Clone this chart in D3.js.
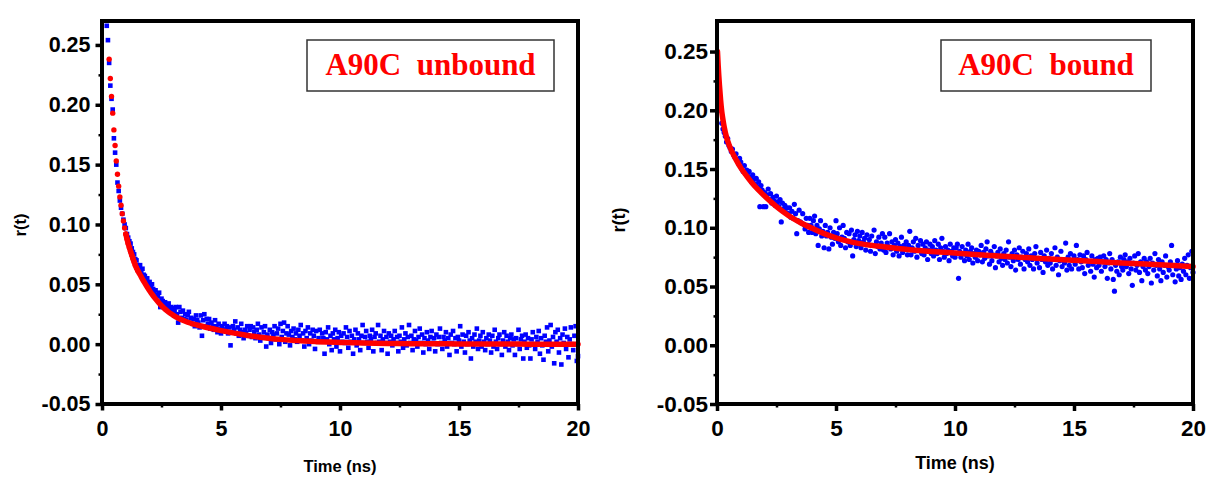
<!DOCTYPE html>
<html><head><meta charset="utf-8">
<script src="https://cdn.jsdelivr.net/npm/d3@7"></script>
<style>body{margin:0;background:#fff}svg{display:block}</style>
</head><body><svg id="c" width="1208" height="478"></svg>
<script>
// ---------- data ----------
const xTicks = [0, 5, 10, 15, 20];
const xMinor = [2.5, 7.5, 12.5, 17.5];
const yTicks = [-0.05, 0, 0.05, 0.10, 0.15, 0.20, 0.25];
const yMinor = [-0.025, 0.025, 0.075, 0.125, 0.175, 0.225];
const leftTitle = "A90C  unbound";
const rightTitle = "A90C  bound";
const xLabel = "Time (ns)";
const yLabel = "r(t)";
const channelWidth = 0.05;      // ns per TCSPC channel
const leftDataStart = 0.20;     // first channel time, left panel
const rightDataStart = 0.05;    // first channel time, right panel

const leftData = [
0.266,0.254,0.235,0.216,0.205,0.196,0.172,0.160,0.150,0.135,0.128,0.120,0.114,0.109,0.104,0.100,0.097,0.092,0.089,0.086,
0.084,0.080,0.077,0.075,0.071,0.070,0.066,0.064,0.066,0.061,0.063,0.058,0.057,0.053,0.055,0.051,0.052,0.048,0.050,0.046,
0.044,0.045,0.041,0.040,0.043,0.031,0.038,0.036,0.033,0.035,0.030,0.032,0.034,0.029,0.031,0.027,0.030,0.028,0.031,0.025,
0.018,0.031,0.027,0.022,0.028,0.021,0.025,0.020,0.024,0.027,0.018,0.022,0.017,0.021,0.015,0.024,0.020,0.018,0.014,0.024,
0.007,0.020,0.025,0.015,0.021,0.017,0.021,0.013,0.018,0.015,0.012,0.020,0.015,0.010,0.017,0.013,0.009,0.015,0.012,0.017,
0.012,0.015,0.009,0.014,-0.001,0.010,0.015,0.012,0.019,0.009,0.014,0.007,0.012,0.017,0.010,0.005,0.012,0.009,0.015,0.007,
0.012,0.015,0.006,0.014,0.010,0.005,0.012,0.017,0.008,0.003,0.014,0.006,0.010,0.015,-0.002,0.008,0.005,0.012,0.001,0.010,
0.008,0.015,0.004,0.009,0.013,0.000,0.017,0.006,0.011,0.018,0.002,0.009,0.015,0.008,-0.001,0.011,0.006,0.013,0.004,0.009,
0.002,0.012,0.007,0.016,0.003,0.009,-0.002,0.011,0.005,0.014,0.000,0.009,0.003,0.012,0.007,-0.004,0.011,0.002,0.005,0.012,
0.002,0.009,0.005,-0.008,0.010,0.004,0.014,0.000,0.007,-0.005,0.009,0.004,0.012,-0.002,0.005,0.010,-0.006,0.007,0.002,0.009,
0.001,0.014,0.006,-0.003,0.011,0.002,0.007,-0.008,0.004,0.012,-0.001,0.009,0.004,-0.005,0.007,0.016,0.001,0.006,0.011,0.002,
-0.003,0.007,0.004,0.012,-0.006,0.006,0.009,0.001,0.016,0.002,0.007,-0.005,0.004,0.011,0.001,0.006,-0.008,0.009,0.002,0.007,
-0.001,0.004,0.011,0.001,0.006,-0.006,0.007,0.002,0.014,-0.003,0.004,0.009,-0.001,0.006,0.016,0.001,0.007,-0.005,0.004,0.011,
0.003,-0.002,0.006,0.013,0.001,0.008,-0.007,0.005,0.000,0.010,0.003,-0.004,0.006,0.011,0.001,0.005,-0.006,0.008,0.000,0.006,
0.013,0.001,-0.004,0.006,0.003,0.010,-0.002,0.005,-0.009,0.008,0.001,0.011,0.000,0.005,-0.006,0.006,0.003,0.015,-0.002,0.008,
0.002,-0.007,0.007,0.000,0.010,0.003,-0.012,0.005,-0.002,0.008,0.002,0.013,-0.004,0.003,0.007,-0.002,0.010,0.002,-0.005,0.005,
0.000,0.008,0.003,-0.007,0.007,-0.002,0.012,0.002,-0.004,0.005,0.008,0.000,-0.009,0.003,0.010,-0.002,0.007,0.002,-0.005,0.005,
0.008,-0.001,0.004,-0.009,0.005,0.000,0.012,-0.004,0.004,0.007,-0.012,0.002,0.008,-0.003,0.005,-0.001,-0.012,0.004,0.010,0.000,
-0.004,0.006,0.002,0.011,-0.008,0.005,-0.001,-0.013,0.007,0.002,0.014,-0.006,0.003,0.016,-0.002,0.006,-0.016,0.010,0.002,0.012,
-0.007,0.005,-0.017,0.008,0.001,0.013,-0.004,0.006,-0.011,0.004,0.014,0.000,-0.005,0.007,0.015,-0.014,-0.010
];
const leftFitT = [0.30,0.35,0.40,0.45,0.50,0.55,0.60,0.65,0.70,0.75,0.80,0.85,0.90,0.95,1.00,1.05,1.10,1.15,1.20,1.25,1.30,1.35,1.40,1.45,1.50,
1.6,1.7,1.8,1.9,2.0,2.1,2.2,2.3,2.4,2.5,2.6,2.7,2.8,2.9,3.0,3.2,3.4,3.6,3.8,4.0,
4.5,5.0,5.5,6.0,6.5,7.0,7.5,8.0,8.5,9.0,9.5,10,11,12,13,14,15,16,17,18,19,20];
const leftFitV = [0.238,0.222,0.207,0.193,0.179,0.166,0.153,0.142,0.132,0.123,0.116,0.109,0.103,0.097,0.092,0.088,0.084,0.0807,0.0775,0.0745,0.0715,0.0687,0.066,0.0637,0.0615,
0.0580,0.0544,0.0510,0.0477,0.0446,0.0418,0.0391,0.0366,0.0343,0.0322,0.0302,0.0284,0.0268,0.0254,0.0241,0.0218,0.0199,0.0183,0.0170,0.0160,
0.0135,0.0113,0.0094,0.0077,0.0062,0.0050,0.0040,0.0032,0.0026,0.0021,0.0017,0.0014,0.0009,0.0006,0.0004,0.0003,0.0002,0.0001,0.0001,0.0000,0.0000,0.0000];

const rightData = [
0.219,0.206,0.200,0.189,0.184,0.181,0.178,0.173,0.176,0.170,0.168,0.165,0.167,0.162,0.160,0.163,0.158,0.155,0.159,0.156,
0.150,0.148,0.153,0.146,0.149,0.144,0.148,0.143,0.139,0.145,0.141,0.137,0.142,0.135,0.139,0.118,0.136,0.132,0.118,0.130,
0.118,0.128,0.133,0.124,0.129,0.121,0.126,0.123,0.119,0.127,0.122,0.118,0.124,0.105,0.121,0.116,0.119,0.113,0.117,0.112,
0.117,0.109,0.114,0.108,0.120,0.112,0.095,0.106,0.115,0.105,0.104,0.112,0.103,0.099,0.108,0.102,0.096,0.108,0.102,0.096,
0.106,0.110,0.095,0.102,0.085,0.099,0.106,0.093,0.097,0.083,0.102,0.093,0.096,0.082,0.100,0.092,0.086,0.096,0.091,0.106,
0.095,0.088,0.100,0.085,0.092,0.102,0.091,0.083,0.096,0.088,0.095,0.085,0.098,0.076,0.090,0.094,0.084,0.097,0.089,0.093,
0.083,0.096,0.088,0.091,0.081,0.094,0.086,0.090,0.080,0.093,0.085,0.098,0.078,0.088,0.084,0.092,0.082,0.087,0.095,0.081,
0.092,0.079,0.087,0.084,0.095,0.082,0.088,0.077,0.085,0.090,0.080,0.087,0.076,0.084,0.092,0.079,0.085,0.082,0.088,0.077,
0.085,0.097,0.077,0.083,0.088,0.080,0.091,0.075,0.085,0.081,0.089,0.078,0.086,0.077,0.083,0.088,0.073,0.081,0.086,0.078,
0.084,0.076,0.089,0.081,0.078,0.086,0.073,0.083,0.091,0.080,0.075,0.084,0.078,0.081,0.072,0.086,0.080,0.076,0.083,0.075,
0.083,0.086,0.057,0.080,0.075,0.084,0.078,0.072,0.081,0.076,0.086,0.073,0.080,0.083,0.070,0.078,0.075,0.081,0.072,0.080,
0.077,0.085,0.071,0.079,0.074,0.082,0.088,0.076,0.069,0.080,0.072,0.077,0.084,0.066,0.076,0.079,0.071,0.082,0.074,0.068,
0.078,0.073,0.081,0.070,0.088,0.075,0.067,0.078,0.072,0.081,0.064,0.077,0.073,0.083,0.069,0.075,0.080,0.065,0.073,0.078,
0.071,0.082,0.068,0.076,0.073,0.065,0.078,0.084,0.070,0.074,0.066,0.079,0.073,0.062,0.076,0.071,0.081,0.068,0.074,0.070,
0.078,0.065,0.073,0.083,0.068,0.075,0.060,0.072,0.080,0.067,0.073,0.070,0.087,0.064,0.075,0.068,0.078,0.065,0.072,0.076,
0.069,0.085,0.073,0.065,0.077,0.071,0.066,0.076,0.061,0.073,0.079,0.068,0.071,0.063,0.076,0.069,0.058,0.073,0.066,0.074,
0.068,0.075,0.063,0.071,0.076,0.067,0.073,0.057,0.070,0.078,0.065,0.073,0.056,0.046,0.068,0.063,0.071,0.060,0.075,0.067,
0.064,0.073,0.077,0.067,0.071,0.061,0.074,0.065,0.051,0.070,0.076,0.064,0.068,0.078,0.062,0.071,0.055,0.067,0.074,0.064,
0.071,0.061,0.067,0.074,0.053,0.070,0.064,0.078,0.068,0.059,0.073,0.065,0.055,0.071,0.062,0.068,0.076,0.058,0.067,0.064,
0.071,0.085,0.060,0.068,0.054,0.065,0.072,0.059,0.066,0.056,0.069,0.063,0.074,0.060,0.068,0.077,0.057,0.066,0.080,0.062
];
const rightFitT = [0.02,0.05,0.10,0.15,0.20,0.25,0.30,0.40,0.50,0.60,0.80,1.00,1.25,1.50,1.75,2.0,2.5,3.0,3.5,4.0,
4.5,5.0,5.5,6.0,6.5,7.0,7.5,8,9,10,11,12,13,14,15,16,17,18,19,20];
const rightFitV = [0.250,0.238,0.222,0.209,0.199,0.192,0.186,0.177,0.171,0.166,0.158,0.151,0.144,0.1375,0.132,0.127,0.118,0.1105,0.1045,0.0995,
0.095,0.0915,0.0887,0.0865,0.0850,0.0838,0.0826,0.0816,0.0799,0.0785,0.0771,0.0758,0.0746,0.0734,0.0723,0.0712,0.0701,0.0691,0.0681,0.0670];

// ---------- drawing ----------
const SANS = "'Liberation Sans', Arial, sans-serif";
const SERIF = "'Liberation Serif', 'Times New Roman', serif";
const BLUE = "#0000ff", RED = "#ff0000";
const svg = d3.select("#c");
const TOP = 21, BOT = 404;

function panel(o) {
  const x = d3.scaleLinear().domain([0, 20]).range(o.xr);
  const y = d3.scaleLinear().domain(o.yd).range([BOT, TOP]);
  const g = svg.append("g");

  o.draw(g, x, y);

  const clean = s => s.select(".domain").remove();
  const styleText = (s, fs) => s.selectAll("text")
      .attr("font-size", fs).attr("font-family", SANS).attr("font-weight", "bold").attr("fill", "#000");

  g.append("g").attr("transform", `translate(${o.xr[0]},0)`)
    .call(d3.axisLeft(y).tickValues(yMinor).tickSize(3.5).tickFormat(""))
    .call(clean).call(s => s.selectAll("line").attr("stroke", "#000").attr("stroke-width", 2.5));
  g.append("g").attr("transform", `translate(${o.xr[0]},0)`)
    .call(d3.axisLeft(y).tickValues(yTicks).tickSize(o.tick).tickPadding(o.yPad).tickFormat(d => d.toFixed(2)))
    .call(clean).call(s => styleText(s, o.tfs))
    .call(s => s.selectAll("line").attr("stroke", "#000").attr("stroke-width", 3.5));
  g.append("g").attr("transform", `translate(0,${BOT})`)
    .call(d3.axisBottom(x).tickValues(xMinor).tickSize(3.5).tickFormat(""))
    .call(clean).call(s => s.selectAll("line").attr("stroke", "#000").attr("stroke-width", 2.5));
  g.append("g").attr("transform", `translate(0,${BOT})`)
    .call(d3.axisBottom(x).tickValues(xTicks).tickSize(o.tick).tickPadding(o.xPad).tickFormat(d => String(d)))
    .call(clean).call(s => styleText(s, o.tfs))
    .call(s => s.selectAll("line").attr("stroke", "#000").attr("stroke-width", 3.5));

  g.append("rect").attr("x", o.xr[0]).attr("y", TOP)
    .attr("width", o.xr[1] - o.xr[0]).attr("height", BOT - TOP)
    .attr("fill", "none").attr("stroke", "#000").attr("stroke-width", 4);

  g.append("rect").attr("x", o.box[0]).attr("y", o.box[1]).attr("width", o.box[2]).attr("height", o.box[3])
    .attr("fill", "#fff").attr("stroke", "#333").attr("stroke-width", 1.5);
  g.append("text").attr("x", o.box[0] + o.box[2] / 2).attr("y", o.box[1] + 35)
    .attr("text-anchor", "middle").attr("font-family", SERIF).attr("font-weight", "bold")
    .attr("font-size", 31).attr("fill", RED).style("white-space", "pre").text(o.title);

  g.append("text").attr("x", o.xt[0]).attr("y", o.xt[1]).attr("text-anchor", "middle")
    .attr("font-family", SANS).attr("font-weight", "bold").attr("font-size", o.afs).text(xLabel);
  g.append("text").attr("transform", `translate(${o.yt[0]},${o.yt[1]}) rotate(-90)`).attr("text-anchor", "middle")
    .attr("font-family", SANS).attr("font-weight", "bold").attr("font-size", o.afs).text(yLabel);
}

panel({
  xr: [102, 578], yd: [-0.05, 0.27], tick: 6.5, yPad: 5, xPad: 10, tfs: 21.5, afs: 16.5,
  box: [307, 40, 247, 51], title: leftTitle, xt: [340, 472], yt: [26, 225],
  draw: (g, x, y) => {
    const pts = leftData.map((v, i) => ({ t: leftDataStart + i * channelWidth, v }));
    g.append("g").selectAll("rect").data(pts).join("rect")
      .attr("x", d => x(d.t) - 2.3).attr("y", d => y(d.v) - 2.3)
      .attr("width", 4.6).attr("height", 4.6).attr("fill", BLUE);
    const fit = leftFitT.map((t, i) => ({ t, v: leftFitV[i] }));
    g.append("path").datum(fit.filter(d => d.t >= 1.0))
      .attr("fill", "none").attr("stroke", RED).attr("stroke-width", 5.5).attr("stroke-linecap", "round")
      .attr("d", d3.line().x(d => x(d.t)).y(d => y(d.v)).curve(d3.curveMonotoneX));
    g.append("g").selectAll("circle").data(fit.filter(d => d.t <= 1.5)).join("circle")
      .attr("cx", d => x(d.t)).attr("cy", d => y(d.v)).attr("r", 2.7).attr("fill", RED);
  }
});

panel({
  xr: [717, 1193], yd: [-0.05, 0.276], tick: 7, yPad: 2, xPad: 9, tfs: 22.5, afs: 18,
  box: [941, 40, 210, 51], title: rightTitle, xt: [955, 469], yt: [625, 220],
  draw: (g, x, y) => {
    const pts = rightData.map((v, i) => ({ t: rightDataStart + i * channelWidth, v }));
    g.append("g").selectAll("circle").data(pts).join("circle")
      .attr("cx", d => x(d.t)).attr("cy", d => y(d.v)).attr("r", 2.6).attr("fill", BLUE);
    const fit = rightFitT.map((t, i) => ({ t, v: rightFitV[i] }));
    g.append("path").datum(fit)
      .attr("fill", "none").attr("stroke", RED).attr("stroke-width", 5.5).attr("stroke-linecap", "round")
      .attr("d", d3.line().x(d => x(d.t)).y(d => y(d.v)).curve(d3.curveMonotoneX));
  }
});
</script>
</body></html>
